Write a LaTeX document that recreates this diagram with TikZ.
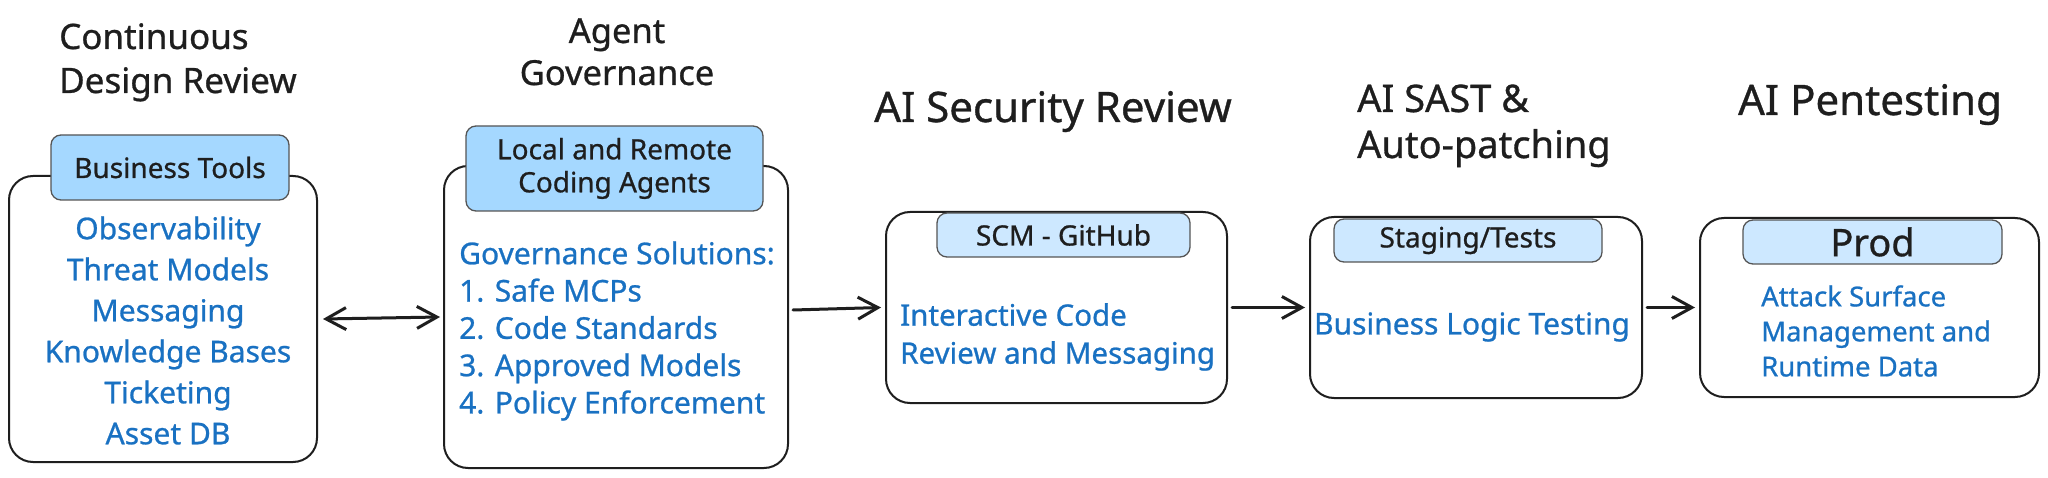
\documentclass[tikz,border=0pt]{standalone}
\usepackage{fontspec}
\setmainfont{Noto Sans}[FakeBold=0.8]
\usetikzlibrary{arrows.meta,calc}
\definecolor{ink}{HTML}{1E1E1E}
\definecolor{blu}{HTML}{1971C2}
\definecolor{hdrA}{HTML}{A5D8FF}
\definecolor{hdrB}{HTML}{CDE8FF}
\definecolor{hdrline}{HTML}{555555}
\newcommand\myfs[2]{\fontsize{#1}{#2}\selectfont}
\begin{document}
\begin{tikzpicture}[x=1pt,y=-1pt,
  box/.style={draw=ink,line width=2pt,rounded corners=24pt,fill=white,inner sep=0pt},
  hdr/.style={draw=hdrline,line width=1.3pt,rounded corners=10pt,text=ink,inner sep=0pt,align=center},
  ttl/.style={text=ink,inner sep=0pt},
  body/.style={text=blu,inner sep=0pt},
  conn/.style={draw=ink,line width=3pt,line cap=round,-{Straight Barb[length=20pt,width=22pt]}},
  conntwo/.style={draw=ink,line width=3pt,line cap=round,{Straight Barb[length=20pt,width=22pt]}-{Straight Barb[length=20pt,width=22pt]}},
]
\useasboundingbox[fill=white] (0,0) rectangle (2048,478);

% titles
\node[ttl,anchor=base west,font=\myfs{35}{44}] (t1a) at (59,49) {Continuous};
\node[ttl,anchor=base west,font=\myfs{35}{44}] (t1b) at (59,93) {Design Review};
\node[ttl,anchor=base,font=\myfs{34.5}{44}] (t2a) at (617,43) {Agent};
\node[ttl,anchor=base,font=\myfs{34.5}{44}] (t2b) at (617,85) {Governance};
\node[ttl,anchor=base,font=\myfs{42}{50}] (t3) at (1053,122) {AI Security Review};
\node[ttl,anchor=base west,font=\myfs{38}{48}] (t4a) at (1357,112) {AI SAST \&};
\node[ttl,anchor=base west,font=\myfs{38}{48}] (t4b) at (1357,158) {Auto-patching};
\node[ttl,anchor=base,font=\myfs{42}{50}] (t5) at (1870,115) {AI Pentesting};

% boxes
\node[box,minimum width=308pt,minimum height=286pt] (b1) at (163,319) {};
\node[box,minimum width=344pt,minimum height=302pt] (b2) at (616,317) {};
\node[box,minimum width=341pt,minimum height=191pt] (b3) at (1056.5,307.5) {};
\node[box,minimum width=332pt,minimum height=181pt] (b4) at (1476,307.5) {};
\node[box,minimum width=339pt,minimum height=179pt] (b5) at (1869.5,307.5) {};

% headers
\node[hdr,fill=hdrA,minimum width=238pt,minimum height=65pt,font=\myfs{28}{33}] (h1) at (170,167.5) {Business Tools};
\node[hdr,fill=hdrA,minimum width=297pt,minimum height=85pt,font=\myfs{28}{33}] (h2) at (614.5,168.5) {Local and Remote\\Coding Agents};
\node[hdr,fill=hdrB,minimum width=253pt,minimum height=44pt,font=\myfs{28}{33}] (h3) at (1063.5,235) {SCM - GitHub};
\node[hdr,fill=hdrB,minimum width=268pt,minimum height=43pt,font=\myfs{28}{33}] (h4) at (1468,240.5) {Staging/Tests};
\node[hdr,fill=hdrB,minimum width=259pt,minimum height=44pt,font=\myfs{38}{44}] (h5) at (1872.5,242) {Prod};

% body texts
\node[body,align=center,font=\myfs{30}{41}] (x1) at (168,330.5) {Observability\\Threat Models\\Messaging\\Knowledge Bases\\Ticketing\\Asset DB};
\node[body,align=left,anchor=west,font=\myfs{30}{37.3}] (x2) at (459,331) {Governance Solutions:\\1. Safe MCPs\\2. Code Standards\\3. Approved Models\\4. Policy Enforcement};
\node[body,align=left,anchor=west,font=\myfs{29.5}{38}] (x3) at (900,337) {Interactive Code\\Review and Messaging};
\node[body,font=\myfs{30}{38}] (x4) at (1472,327) {Business Logic Testing};
\node[body,align=left,anchor=west,font=\myfs{27.5}{35}] (x5) at (1761,331) {Attack Surface\\Management and\\Runtime Data};

% connectors
\draw[conntwo] ($(b1.east)+(5,0)$) -- ($(b2.west)+(-3,0)$);
\draw[conn] ($(b2.east)+(4,-7)$) -- ($(b3.west)+(-4,0)$);
\draw[conn] ($(b3.east)+(4,0)$) -- ($(b4.west)+(-4,0)$);
\draw[conn] ($(b4.east)+(4,0)$) -- ($(b5.west)+(-4,0)$);
\end{tikzpicture}
\end{document}
